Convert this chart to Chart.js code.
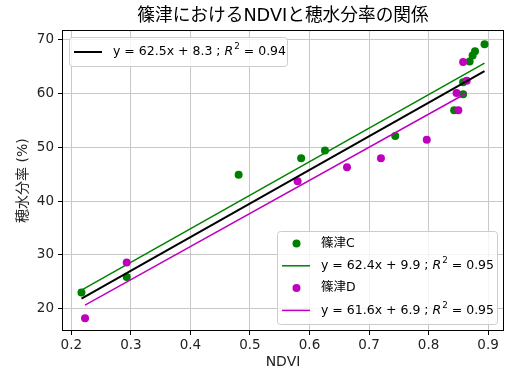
<!DOCTYPE html>
<html>
<head>
<meta charset="utf-8">
<script src="https://cdn.jsdelivr.net/npm/chart.js@4.4.0/dist/chart.umd.min.js"></script>
<style>
  html, body { margin: 0; padding: 0; background: #fff; }
</style>
</head>
<body>
<canvas id="chart-1" width="508" height="372"></canvas>
<script>
// 篠津C
var ndviC = [0.217, 0.293, 0.481, 0.586, 0.626, 0.744, 0.843, 0.858, 0.858, 0.869, 0.874, 0.878, 0.894];
var moistC = [23.0, 25.9, 44.9, 48.0, 49.4, 52.1, 56.9, 59.9, 62.1, 66.0, 67.1, 67.9, 69.2];
// 篠津D
var ndviD = [0.223, 0.293, 0.580, 0.663, 0.720, 0.797, 0.847, 0.850, 0.858, 0.864];
var moistD = [18.2, 28.6, 43.7, 46.3, 48.0, 51.4, 60.1, 56.9, 65.9, 62.4];

// regression fits: slope, intercept, R^2
var fitAll = [62.5, 8.3, 0.94];
var fitC = [62.4, 9.9, 0.95];
var fitD = [61.6, 6.9, 0.95];

var xTicks = [0.2, 0.3, 0.4, 0.5, 0.6, 0.7, 0.8, 0.9];
var yTicks = [20, 30, 40, 50, 60, 70];

var FONT = '"DejaVu Sans", "Noto Sans CJK JP", sans-serif';
var GREEN = '#008000';
var MAGENTA = '#bf00bf';

function toPoints(xs, ys) {
  return xs.map(function (x, i) { return { x: x, y: ys[i] }; });
}

// fit line from the smallest to the largest x of its data
function fitLine(fit, xs) {
  var x0 = Math.min.apply(null, xs), x1 = Math.max.apply(null, xs);
  return [{ x: x0, y: fit[0] * x0 + fit[1] }, { x: x1, y: fit[0] * x1 + fit[1] }];
}

// "y = ax + b ; R^2 = r" with italic R and a superscript 2
function drawEq(ctx, x, y, fit) {
  var size = 12.5;
  var pre = 'y = ' + fit[0].toFixed(1) + 'x + ' + fit[1].toFixed(1) + ' ; ';
  ctx.textBaseline = 'middle';
  ctx.textAlign = 'left';
  ctx.fillStyle = '#000';
  ctx.font = size + 'px ' + FONT;
  ctx.fillText(pre, x, y);
  x += ctx.measureText(pre).width;
  ctx.font = 'italic ' + size + 'px ' + FONT;
  ctx.fillText('R', x, y);
  x += ctx.measureText('R').width + 1;
  ctx.font = (size * 0.7) + 'px ' + FONT;
  ctx.fillText('2', x, y - 5);
  x += ctx.measureText('2').width;
  ctx.font = size + 'px ' + FONT;
  ctx.fillText(' = ' + fit[2].toFixed(2), x, y);
}

function legendBox(ctx, x, y, w, h) {
  ctx.save();
  ctx.fillStyle = 'rgba(255,255,255,0.8)';
  ctx.strokeStyle = '#cccccc';
  ctx.lineWidth = 1;
  ctx.beginPath();
  ctx.roundRect(x + 0.5, y + 0.5, w, h, 3);
  ctx.fill();
  ctx.stroke();
  ctx.restore();
}

var frameAndLegends = {
  id: 'frameAndLegends',
  afterDraw: function (chart) {
    var ctx = chart.ctx, a = chart.chartArea;
    ctx.save();
    // axes frame
    ctx.strokeStyle = '#000';
    ctx.lineWidth = 1;
    ctx.strokeRect(Math.round(a.left) + 0.5, Math.round(a.top) + 0.5,
      Math.round(a.right - a.left) - 1, Math.round(a.bottom - a.top) - 1);

    // upper left legend: combined fit
    var bx = Math.round(a.left) + 7, by = Math.round(a.top) + 7;
    legendBox(ctx, bx, by, 218, 29);
    ctx.strokeStyle = '#000';
    ctx.lineWidth = 2;
    ctx.beginPath();
    ctx.moveTo(bx + 5, by + 15);
    ctx.lineTo(bx + 33, by + 15);
    ctx.stroke();
    drawEq(ctx, bx + 44, by + 15, fitAll);

    // lower right legend: the two fields
    var w2 = 220, h2 = 93;
    bx = Math.round(a.right) - 7 - w2;
    by = Math.round(a.bottom) - 7 - h2;
    legendBox(ctx, bx, by, w2, h2);
    var rows = [
      { kind: 'dot', color: GREEN, text: '篠津C' },
      { kind: 'line', color: GREEN, fit: fitC },
      { kind: 'dot', color: MAGENTA, text: '篠津D' },
      { kind: 'line', color: MAGENTA, fit: fitD }
    ];
    rows.forEach(function (r, i) {
      var cy = by + 12.5 + i * 22.3;
      if (r.kind === 'dot') {
        ctx.fillStyle = r.color;
        ctx.beginPath();
        ctx.arc(bx + 19.5, cy, 4, 0, Math.PI * 2);
        ctx.fill();
        ctx.fillStyle = '#000';
        ctx.font = '12.5px ' + FONT;
        ctx.textBaseline = 'middle';
        ctx.textAlign = 'left';
        ctx.fillText(r.text, bx + 44, cy);
      } else {
        ctx.strokeStyle = r.color;
        ctx.lineWidth = 1.5;
        ctx.beginPath();
        ctx.moveTo(bx + 5, cy);
        ctx.lineTo(bx + 33, cy);
        ctx.stroke();
        drawEq(ctx, bx + 44, cy, r.fit);
      }
    });
    ctx.restore();
  }
};

var allX = ndviC.concat(ndviD);

var ctxOne = document.getElementById('chart-1').getContext('2d');
var chart = new Chart(ctxOne, {
  type: 'scatter',
  data: {
    datasets: [{
      label: '篠津C',
      data: toPoints(ndviC, moistC),
      backgroundColor: GREEN,
      pointRadius: 4,
      pointBorderWidth: 0,
      order: 5
    }, {
      label: 'fit C',
      type: 'line',
      data: fitLine(fitC, ndviC),
      borderColor: GREEN,
      borderWidth: 1.5,
      pointRadius: 0,
      order: 4
    }, {
      label: '篠津D',
      data: toPoints(ndviD, moistD),
      backgroundColor: MAGENTA,
      pointRadius: 4,
      pointBorderWidth: 0,
      order: 3
    }, {
      label: 'fit D',
      type: 'line',
      data: fitLine(fitD, ndviD),
      borderColor: MAGENTA,
      borderWidth: 1.5,
      pointRadius: 0,
      order: 2
    }, {
      label: 'fit all',
      type: 'line',
      data: fitLine(fitAll, allX),
      borderColor: '#000',
      borderWidth: 2,
      pointRadius: 0,
      order: 1
    }]
  },
  options: {
    responsive: false,
    animation: false,
    devicePixelRatio: 1,
    layout: { padding: { left: 0, right: 1, top: 0, bottom: 0 } },
    plugins: {
      legend: { display: false },
      tooltip: { enabled: false },
      title: {
        display: true,
        fullSize: false,
        text: '篠津におけるNDVIと穂水分率の関係',
        color: '#000',
        font: { family: FONT, size: 17.7, weight: 'normal' },
        padding: { top: 6, bottom: 3 }
      }
    },
    scales: {
      x: {
        type: 'linear',
        min: 0.1843,
        max: 0.9267,
        afterBuildTicks: function (s) { s.ticks = xTicks.map(function (v) { return { value: v }; }); },
        afterFit: function (s) { s.height = 41; },
        border: { display: false },
        grid: { color: '#c8c8c8', lineWidth: 1, tickColor: '#000', tickLength: 4 },
        ticks: {
          color: '#222',
          font: { family: FONT, size: 13.5 },
          padding: 2,
          maxRotation: 0,
          autoSkip: false,
          callback: function (v) { return v.toFixed(1); }
        },
        title: {
          display: true,
          text: 'NDVI',
          color: '#222',
          font: { family: FONT, size: 14 },
          padding: { top: 0, bottom: 1 }
        }
      },
      y: {
        type: 'linear',
        min: 15.83,
        max: 71.8,
        afterBuildTicks: function (s) { s.ticks = yTicks.map(function (v) { return { value: v }; }); },
        afterFit: function (s) { s.width = 62; },
        border: { display: false },
        grid: { color: '#c8c8c8', lineWidth: 1, tickColor: '#000', tickLength: 4 },
        ticks: {
          color: '#222',
          font: { family: FONT, size: 13.5 },
          padding: 4,
          autoSkip: false
        },
        title: {
          display: true,
          text: '穂水分率 (%)',
          color: '#222',
          font: { family: FONT, size: 14 },
          padding: { top: 15, bottom: 0 }
        }
      }
    }
  },
  plugins: [frameAndLegends]
});
</script>
</body>
</html>
